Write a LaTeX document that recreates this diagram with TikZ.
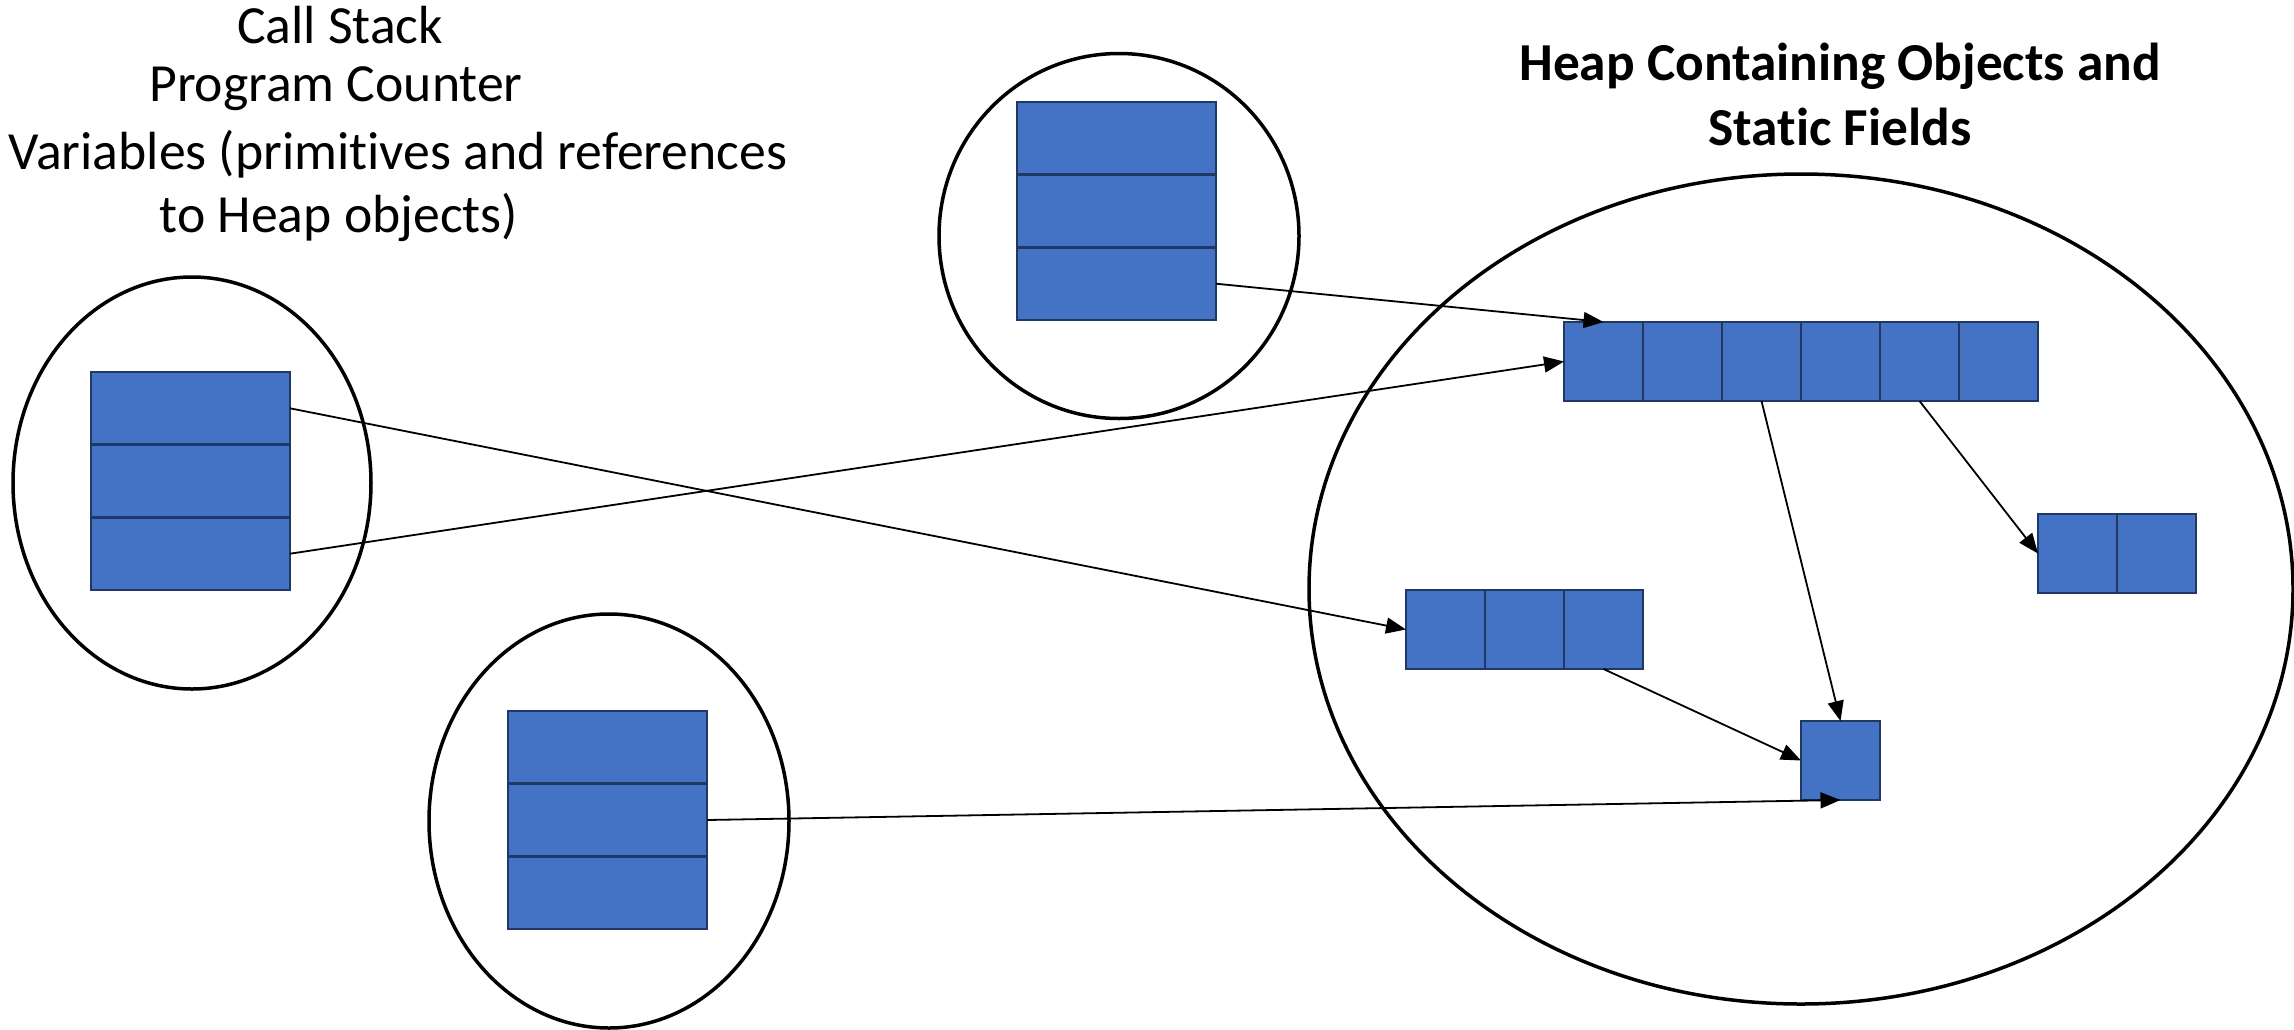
\documentclass[tikz,border=0pt]{standalone}
\usepackage{fontspec}
\setmainfont{Carlito}[Ligatures=NoCommon]
\usetikzlibrary{shapes.geometric,arrows.meta}
\definecolor{cellfill}{HTML}{4472C4}
\definecolor{celldraw}{HTML}{203864}
\tikzset{
  cell/.style={draw=celldraw, fill=cellfill, line width=2.5pt, minimum width=79pt, minimum height=79pt, inner sep=0pt, outer sep=0pt},
  row/.style={draw=celldraw, fill=cellfill, line width=2.5pt, minimum width=199pt, minimum height=72.7pt, inner sep=0pt, outer sep=0pt},
  region/.style={ellipse, draw=black, line width=3.5pt, inner sep=0pt},
  ref/.style={draw=black, line width=1.8pt, -{Triangle[length=20pt,width=16pt]}},
  lbl/.style={font=\fontsize{53.7}{64}\selectfont, inner sep=0pt},
  hlbl/.style={font=\fontsize{53.4}{61}\selectfont\bfseries, inner sep=0pt}
}
\begin{document}
\begin{tikzpicture}[x=1pt,y=-1pt]
\useasboundingbox (0,0) rectangle (2294,1029);
% labels
\node[lbl] (t1) at (340,25) {Call Stack};
\node[lbl] (t2) at (336,89) {Program Counter};
\node[lbl] (t3) at (398,154) {Variables (primitives and references};
\node[lbl] (t4) at (339,217) {to Heap objects)};
\node[hlbl] (h1t) at (1840,66) {Heap Containing Objects and};
\node[hlbl] (h2t) at (1840,127) {Static Fields};
% regions
\node[region, minimum width=358pt, minimum height=412pt] (eL) at (192,483) {};
\node[region, minimum width=360pt, minimum height=365pt] (eT) at (1119,236) {};
\node[region, minimum width=360pt, minimum height=414pt] (eB) at (609,821) {};
\node[region, minimum width=984pt, minimum height=830pt] (eH) at (1801,589) {};
% left stack
\node[row] (s1) at (190.5,408.3) {};
\node[row] (s2) at (190.5,481) {};
\node[row] (s3) at (190.5,553.7) {};
% top stack
\node[row] (u1) at (1116.5,138.3) {};
\node[row] (u2) at (1116.5,211) {};
\node[row] (u3) at (1116.5,283.7) {};
% bottom stack
\node[row] (b1) at (607.5,747.3) {};
\node[row] (b2) at (607.5,820) {};
\node[row] (b3) at (607.5,892.7) {};
% heap: 6-cell array
\foreach \i in {1,...,6} {
  \node[cell] (h\i) at ({1564+79*(\i-0.5)},361.5) {};
}
% 2-cell array
\node[cell] (w1) at (2077.5,553.5) {};
\node[cell] (w2) at (2156.5,553.5) {};
% 3-cell array
\node[cell] (m1) at (1445.5,629.5) {};
\node[cell] (m2) at (1524.5,629.5) {};
\node[cell] (m3) at (1603.5,629.5) {};
% single cell
\node[cell] (o) at (1840.5,760.5) {};
% references
\draw[ref] (s1.east) -- (m1.west);
\draw[ref] (s3.east) -- (h1.west);
\draw[ref] (u3.east) -- (h1.north);
\draw[ref] (h3.south) -- (o.north);
\draw[ref] (h5.south) -- (w1.west);
\draw[ref] (m3.south) -- (o.west);
\draw[ref] (b2.east) -- (o.south);
\end{tikzpicture}
\end{document}
